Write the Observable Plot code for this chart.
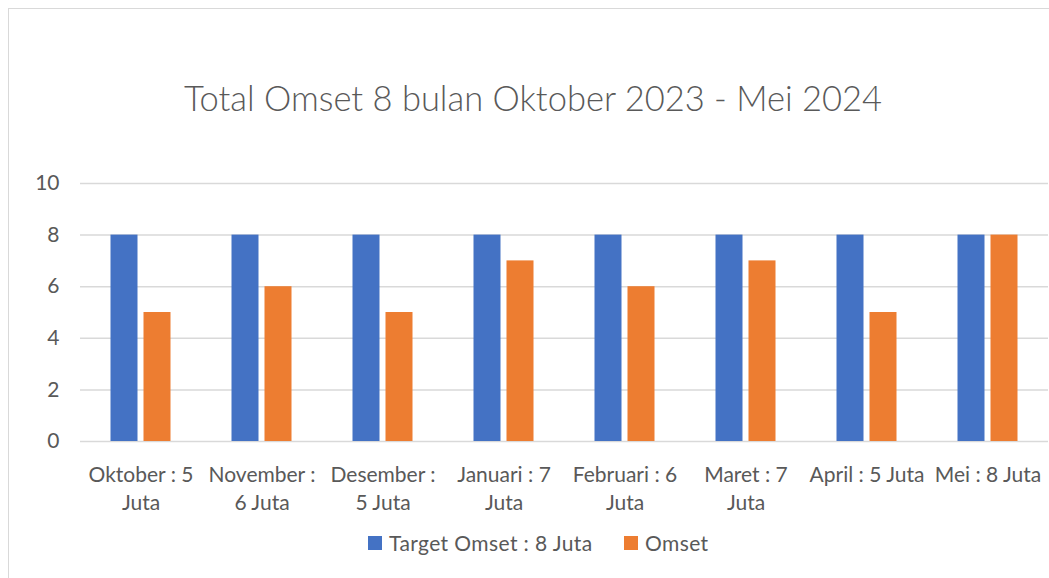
<!DOCTYPE html>
<html>
<head>
<meta charset="utf-8">
<script src="https://cdn.jsdelivr.net/npm/d3@7"></script>
<script src="https://cdn.jsdelivr.net/npm/@observablehq/plot@0.6"></script>
<style>
  html, body { margin: 0; padding: 0; background: #fff; overflow: hidden; }
  #wrap { position: relative; width: 1049px; height: 578px; font-family: Lato, "Open Sans", sans-serif; color: #595959; }
  #frame { position: absolute; left: 8px; top: 8px; width: 1100px; height: 600px; border: 1px solid #d9d9d9; box-sizing: border-box; }
  #title { position: absolute; left: 0; width: 1066px; top: 77px; text-align: center; font-size: 34.5px; font-weight: 300; line-height: 42px; white-space: nowrap; }
  #chart { position: absolute; left: 0; top: 0; }
  .leg { position: absolute; top: 530px; font-size: 21px; line-height: 26px; letter-spacing: 0.4px; display: flex; align-items: center; white-space: nowrap; }
  .sw { width: 14px; height: 14px; margin-right: 7px; display: inline-block; }
</style>
</head>
<body>
<div id="wrap">
  <div id="frame"></div>
  <div id="chart"></div>
  <div id="title">Total Omset 8 bulan Oktober 2023 - Mei 2024</div>
  <div id="legend"></div>
</div>
<script>
const months = ["Oktober", "November", "Desember", "Januari", "Februari", "Maret", "April", "Mei"];
const monthLabels = ["Oktober : 5\nJuta", "November :\n6 Juta", "Desember :\n5 Juta", "Januari : 7\nJuta", "Februari : 6\nJuta", "Maret : 7\nJuta", "April : 5 Juta", "Mei : 8 Juta"];
const targetOmset = [8, 8, 8, 8, 8, 8, 8, 8];
const omset = [5, 6, 5, 7, 6, 7, 5, 8];
const seriesNames = ["Target Omset : 8 Juta", "Omset"];
const seriesColors = ["#4472C4", "#ED7D31"];
const yTicks = [0, 2, 4, 6, 8, 10];

const rows = [];
months.forEach((m, i) => {
  rows.push({month: m, series: seriesNames[0], value: targetOmset[i]});
  rows.push({month: m, series: seriesNames[1], value: omset[i]});
});
const labelOf = new Map(months.map((m, i) => [m, monthLabels[i]]));

const chart = Plot.plot({
  width: 1049,
  height: 578,
  marginLeft: 78.5,
  marginRight: 0,
  marginTop: 183,
  marginBottom: 137,
  style: {fontFamily: "Lato, 'Open Sans', sans-serif", color: "#595959", background: "transparent", overflow: "visible"},
  fx: {domain: months, padding: 0, axis: null},
  x: {domain: seriesNames, paddingInner: 0.19, paddingOuter: 0.879, axis: null},
  y: {domain: [0, 10], axis: null},
  color: {domain: seriesNames, range: seriesColors},
  marks: [
    Plot.gridY(yTicks, {stroke: "#d9d9d9", strokeOpacity: 1, strokeWidth: 1.5}),
    Plot.barY(rows, {fx: "month", x: "series", y: "value", fill: "series"}),
    Plot.axisY(yTicks, {tickSize: 0, tickPadding: 21, fontSize: 21, fill: "#595959", label: null}),
    Plot.axisFx({anchor: "bottom", tickSize: 0, tickPadding: 20, fontSize: 21, lineHeight: 1.35, fill: "#595959", tickFormat: d => labelOf.get(d), label: null})
  ]
});
document.getElementById("chart").appendChild(chart);

const legend = document.getElementById("legend");
const legendX = [368, 624];
seriesNames.forEach((s, i) => {
  const item = document.createElement("div");
  item.className = "leg";
  item.style.left = legendX[i] + "px";
  const sw = document.createElement("span");
  sw.className = "sw";
  sw.style.background = seriesColors[i];
  item.appendChild(sw);
  item.appendChild(document.createTextNode(s));
  legend.appendChild(item);
});
</script>
</body>
</html>
